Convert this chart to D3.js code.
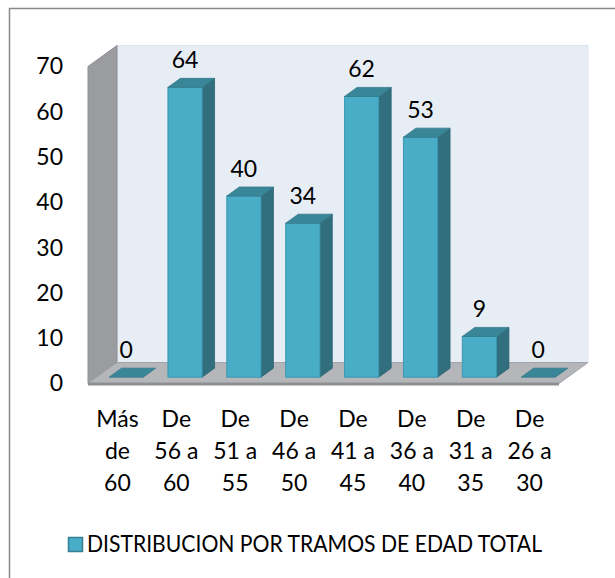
<!DOCTYPE html>
<html><head><meta charset="utf-8">
<script src="https://cdn.jsdelivr.net/npm/d3@7"></script>
<style>
body{margin:0;background:#fff}
text{font-family:Lato,'Open Sans',sans-serif;fill:#000}
</style></head>
<body><svg id="c" width="615" height="578"></svg>
<script>
const categories = ["Más de 60","De 56 a 60","De 51 a 55","De 46 a 50","De 41 a 45","De 36 a 40","De 31 a 35","De 26 a 30"];
const values = [0,64,40,34,62,53,9,0];
const yTicks = [0,10,20,30,40,50,60,70];
const seriesName = "DISTRIBUCION POR TRAMOS DE EDAD TOTAL";

const FS = 23;
const svg = d3.select("#c");
// frame
svg.append("rect").attr("x",9.5).attr("y",8.5).attr("width",620).attr("height",600)
  .attr("fill","#fff").attr("stroke","#888").attr("stroke-width",1.5);

const x = d3.scaleBand().domain(categories).range([88,559]).paddingInner(0).paddingOuter(0);
const y = d3.scaleLinear().domain([0,70]).range([383.5,66.5]);
const DX = 29, DY = -21;

const g = svg.append("g");
const x0 = x.range()[0], x1 = x.range()[1];
const y0 = y(0), yTop = y(70);
// back wall
g.append("polygon").attr("points",[[x0+DX,yTop+DY],[x1+DX,yTop+DY],[x1+DX,y0+DY],[x0+DX,y0+DY]].join(" "))
  .attr("fill","#e6edf5").attr("stroke","#dde5ee");
// side wall
g.append("polygon").attr("points",[[x0,yTop],[x0+DX,yTop+DY],[x0+DX,y0+DY],[x0,y0]].join(" "))
  .attr("fill","#9b9c9f").attr("stroke","#8e8f92");
// floor
g.append("polygon").attr("points",[[x0,y0],[x0+DX,y0+DY],[x1+DX,y0+DY],[x1,y0]].join(" "))
  .attr("fill","#b4b6b9").attr("stroke","#a2a4a7");
g.append("polygon").attr("points",[[x0,y0-1],[x1,y0-1],[x1,y0+2],[x0,y0+2]].join(" "))
  .attr("fill","#8d8f92");

// y axis labels
const yAxis = d3.axisLeft(y).tickValues(yTicks).tickSize(0).tickPadding(25);
const ya = svg.append("g").attr("transform",`translate(${x0},0)`).call(yAxis);
ya.select(".domain").remove();
ya.selectAll("text").style("font-family","Lato,'Open Sans',sans-serif").attr("font-size",FS).attr("fill","#000");

// bars
const f0 = 0.30, fd = 0.43;
const ox = DX*f0, oy = DY*f0, ddx = DX*fd, ddy = DY*fd;
const bw = x.bandwidth()*0.58;
const bars = svg.append("g").selectAll("g").data(categories.map((c,i)=>({c,v:values[i]}))).join("g");
bars.each(function(d){
  const gg = d3.select(this);
  const xl = x(d.c) + (x.bandwidth()-bw)/2 + ox, xr = xl + bw;
  const yb = y(0) + oy, yt = y(d.v) + oy;
  if (d.v > 0) {
    gg.append("polygon").attr("points",[[xr,yt],[xr+ddx,yt+ddy],[xr+ddx,yb+ddy],[xr,yb]].join(" "))
      .attr("fill","#316f7e").attr("stroke","#2c6573").attr("stroke-width",0.8);
    gg.append("rect").attr("x",xl).attr("y",yt).attr("width",bw).attr("height",yb-yt)
      .attr("fill","#4aadc7").attr("stroke","#3b97b0").attr("stroke-width",1);
  }
  gg.append("polygon").attr("points",[[xl,yt],[xr,yt],[xr+ddx,yt+ddy],[xl+ddx,yt+ddy]].join(" "))
    .attr("fill","#3a8699").attr("stroke","#347a8b").attr("stroke-width",0.8);
  gg.append("text").attr("x",(xl+xr)/2).attr("y",yt+ddy-10).attr("text-anchor","middle")
    .attr("font-size",FS).text(d.v);
});

// x labels
const xl = svg.append("g");
categories.forEach(c=>{
  const w = c.split(" ");
  const lines = [w[0], w.slice(1,-1).join(" "), w[w.length-1]];
  const t = xl.append("text").attr("text-anchor","middle").attr("font-size",FS);
  lines.forEach((s,k)=>t.append("tspan").attr("x",x(c)+x.bandwidth()/2).attr("y",427+32*k).text(s));
});

// legend
const lg = svg.append("g");
lg.append("rect").attr("x",68.5).attr("y",537.5).attr("width",14).attr("height",14)
  .attr("fill","#4aadc7").attr("stroke","#357f92").attr("stroke-width",1.5);
lg.append("text").attr("x",87).attr("y",552).attr("font-size",FS)
  .attr("textLength",455).attr("lengthAdjust","spacingAndGlyphs").text(seriesName);
</script></body></html>
